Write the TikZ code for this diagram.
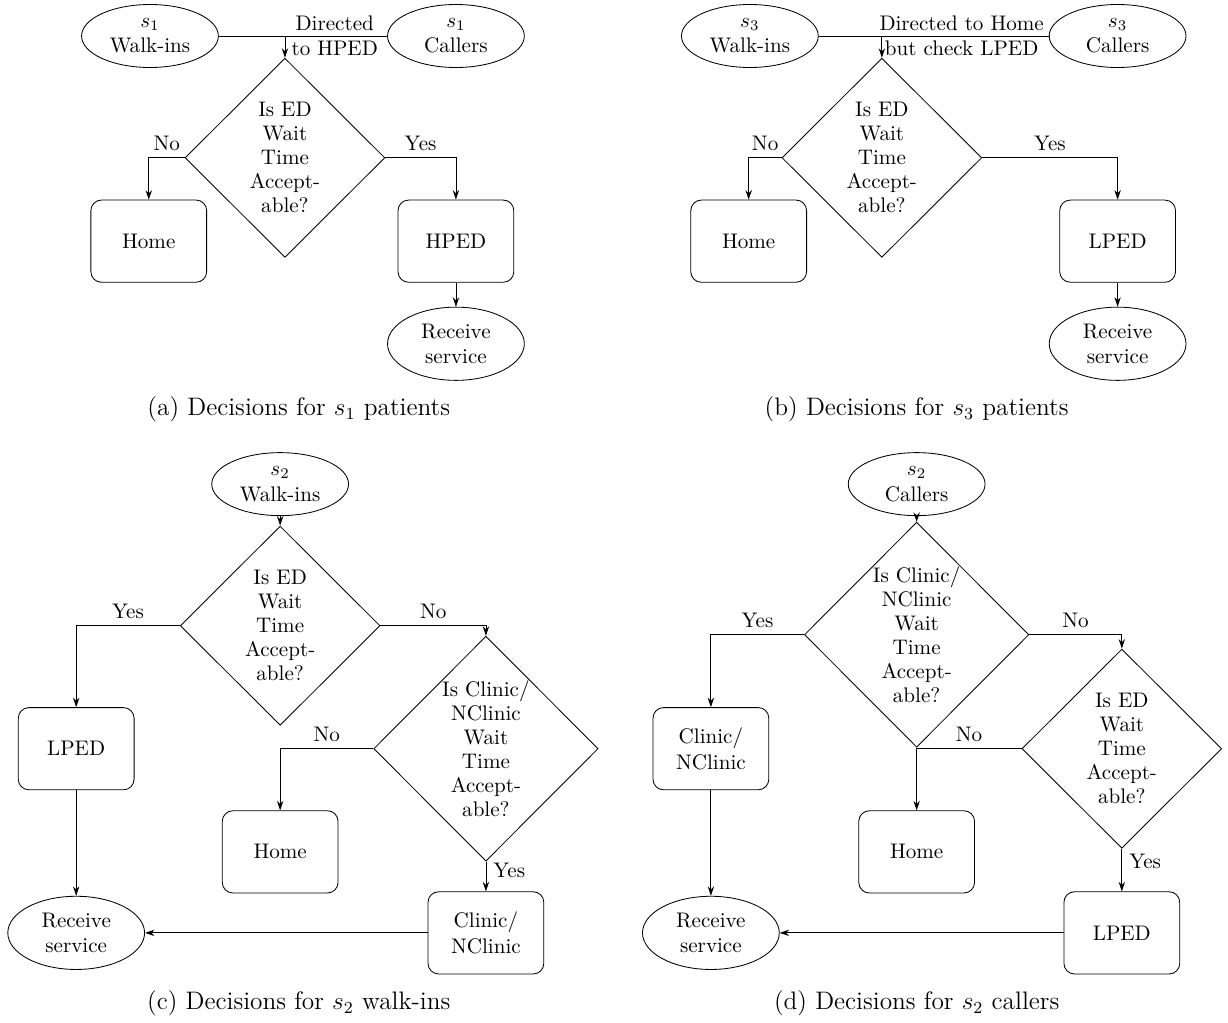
\documentclass[tikz,border=0pt]{standalone}
\usepackage{amsmath,amssymb}
\usepackage{tikz}
\usetikzlibrary{shapes.geometric,arrows.meta}
\tikzset{
decisionv1/.style={diamond, draw=black!100,fill=none, inner sep=0pt, align=center, font=\linespread{0.95}\selectfont, minimum width= 3.33cm, minimum height= 3.32cm},
decisionv2/.style={diamond, draw=black!100,fill=none, inner sep=0pt, align=center, font=\linespread{0.95}\selectfont, minimum width= 3.74cm, minimum height= 3.75cm},
boxnodev1/.style={rectangle, rounded corners=5pt, draw=black!100,fill=none, align=center, minimum width= 1.93cm, minimum height= 1.37cm},
ellipsenodev1/.style={ellipse, draw=black!100,fill=none, inner sep=0pt, align=center, minimum width= 2.28cm, minimum height = 1.05cm},
ellipsenodev2/.style={ellipse, draw=black!100,fill=none, inner sep=0pt, align=center, minimum width= 2.28cm, minimum height = 1.22cm},
captionnode/.style={font=\large},
}

\begin{document}
\begin{tikzpicture}[>={Stealth[length=4.5pt,width=3pt]}]
        \useasboundingbox (0,0) rectangle (20.47,-17.05);

        % (a)
        \begin{scope}
        \node[ellipsenodev1] at (2.5,-0.6) (wa) {$s_{1}$\\Walk-ins};
        \node[ellipsenodev1] at (7.6,-0.6) (ca) {$s_{1}$\\Callers};
        \coordinate (ja) at (4.75,-0.6);
        \node[align=center] at (5.58,-0.6) (ta) {Directed\\to HPED};
        \node[decisionv1] at (4.75,-2.63) (da) {Is ED\\Wait\\Time\\Accept-\\able?};
        \node[boxnodev1] at (2.48,-4.02) (ha) {Home};
        \node[boxnodev1] at (7.6,-4.02) (pa) {HPED};
        \node[ellipsenodev2] at (7.6,-5.73) (ra) {Receive\\service};
        \node[captionnode] at (4.98,-6.82) (capa) {(a) Decisions for $s_{1}$ patients};
        \draw (wa)--(ca);
        \draw[->] (ja)--(da);
        \draw[->] (da.west) -| node[pos=0.25,above] {No} (ha.north);
        \draw[->] (da.east) -| node[pos=0.25,above] {Yes} (pa.north);
        \draw[->] (pa)--(ra);
        \end{scope}

        % (b)
        \begin{scope}[xshift = 10cm]
        \node[ellipsenodev1] at (2.5,-0.6) (wb) {$s_{3}$\\Walk-ins};
        \node[ellipsenodev1] at (8.63,-0.6) (cb) {$s_{3}$\\Callers};
        \coordinate (jb) at (4.7,-0.6);
        \node[align=center] at (6.03,-0.6) (tb) {Directed to Home\\but check LPED};
        \node[decisionv1] at (4.7,-2.63) (db) {Is ED\\Wait\\Time\\Accept-\\able?};
        \node[boxnodev1] at (2.48,-4.02) (hb) {Home};
        \node[boxnodev1] at (8.63,-4.02) (lb) {LPED};
        \node[ellipsenodev2] at (8.63,-5.73) (rb) {Receive\\service};
        \node[captionnode] at (5.28,-6.82) (capb) {(b) Decisions for $s_{3}$ patients};
        \draw (wb)--(cb);
        \draw[->] (jb)--(db);
        \draw[->] (db.west) -| node[pos=0.25,above] {No} (hb.north);
        \draw[->] (db.east) -| node[pos=0.25,above] {Yes} (lb.north);
        \draw[->] (lb)--(rb);
        \end{scope}

        % (c)
        \begin{scope}[yshift = -7.5cm]
        \node[ellipsenodev1] at (4.67,-0.57) (wc) {$s_{2}$\\Walk-ins};
        \node[decisionv1] at (4.67,-2.93) (dc1) {Is ED\\Wait\\Time\\Accept-\\able?};
        \node[boxnodev1] at (1.27,-4.98) (lc) {LPED};
        \node[decisionv2] at (8.1,-4.98) (dc2) {Is Clinic/\\NClinic\\Wait\\Time\\Accept-\\able?};
        \node[boxnodev1] at (4.67,-6.7) (hc) {Home};
        \node[boxnodev1] at (8.1,-8.05) (kc) {Clinic/\\NClinic};
        \node[ellipsenodev2] at (1.27,-8.05) (rc) {Receive\\service};
        \node[captionnode] at (4.98,-9.22) (capc) {(c) Decisions for $s_{2}$ walk-ins};
        \draw[->] (wc)--(dc1);
        \draw[->] (dc1.west) -| node[pos=0.25,above] {Yes} (lc.north);
        \draw[->] (dc1.east) -| node[pos=0.25,above] {No} (dc2.north);
        \draw[->] (dc2.west) -| node[pos=0.25,above] {No} (hc.north);
        \draw[->] (dc2)--node[pos=0.3,right] {Yes} (kc);
        \draw[->] (lc)--(rc);
        \draw[->] (kc)--(rc);
        \end{scope}

        % (d)
        \begin{scope}[xshift = 10cm, yshift = -7.5cm]
        \node[ellipsenodev1] at (5.28,-0.57) (wd) {$s_{2}$\\Callers};
        \node[decisionv2] at (5.28,-3.08) (dd1) {Is Clinic/\\NClinic\\Wait\\Time\\Accept-\\able?};
        \node[boxnodev1] at (1.85,-4.98) (kd) {Clinic/\\NClinic};
        \node[decisionv1] at (8.7,-4.98) (dd2) {Is ED\\Wait\\Time\\Accept-\\able?};
        \node[boxnodev1] at (5.28,-6.7) (hd) {Home};
        \node[boxnodev1] at (8.7,-8.05) (ld) {LPED};
        \node[ellipsenodev2] at (1.85,-8.05) (rd) {Receive\\service};
        \node[captionnode] at (5.28,-9.22) (capd) {(d) Decisions for $s_{2}$ callers};
        \draw[->] (wd)--(dd1);
        \draw[->] (dd1.west) -| node[pos=0.25,above] {Yes} (kd.north);
        \draw[->] (dd1.east) -| node[pos=0.25,above] {No} (dd2.north);
        \draw[->] (dd2.west) -| node[pos=0.25,above] {No} (hd.north);
        \draw[->] (dd2)--node[pos=0.3,right] {Yes} (ld);
        \draw[->] (kd)--(rd);
        \draw[->] (ld)--(rd);
        \end{scope}
    \end{tikzpicture}
\end{document}
